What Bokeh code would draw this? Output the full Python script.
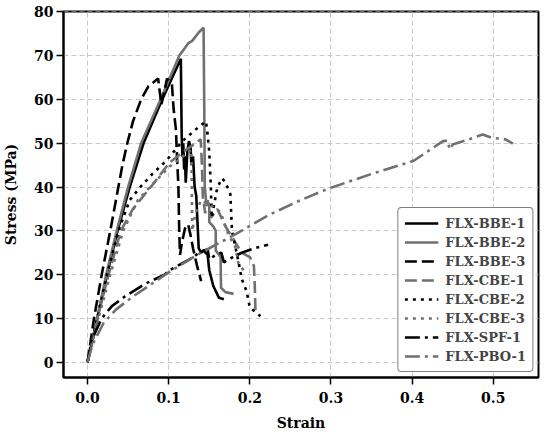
from bokeh.plotting import figure
from bokeh.models import Range1d, FixedTicker, Legend, LegendItem, NumeralTickFormatter
from bokeh.embed import file_html
from bokeh.resources import INLINE

# ---- data (strain, stress in MPa) ----
BBE1_x = [0, 0.012, 0.024, 0.037, 0.052, 0.069, 0.092, 0.115, 0.116, 0.117, 0.118, 0.119, 0.12, 0.121, 0.123,
          0.125, 0.127, 0.128, 0.13, 0.132, 0.134, 0.136, 0.137, 0.14, 0.143, 0.148, 0.15, 0.155, 0.162, 0.168]
BBE1_y = [0, 10, 20, 30, 40, 50, 60, 69.3, 52, 47, 50, 44, 47, 41, 48,
          50.5, 49, 45, 47, 40, 38, 30, 26, 25, 25.5, 24.5, 21, 17.4, 14.7, 14.4]

BBE2_x = [0, 0.012, 0.023, 0.036, 0.05, 0.066, 0.09, 0.113, 0.124, 0.129, 0.137, 0.143, 0.144, 0.1445, 0.146,
          0.15, 0.15, 0.155, 0.158, 0.158, 0.162, 0.164, 0.1645, 0.17, 0.18]
BBE2_y = [0, 10, 20, 30, 40, 50, 60, 70, 72.8, 73.4, 75.3, 76.4, 55, 40, 37,
          36, 32, 31, 30, 25.5, 24.5, 24, 17, 16, 15.6]

BBE3_x = [0, 0.008, 0.0175, 0.028, 0.038, 0.043, 0.049, 0.056, 0.066, 0.075, 0.087, 0.091, 0.098, 0.104, 0.106,
          0.109, 0.11, 0.112, 0.113, 0.114, 0.116, 0.12, 0.124, 0.127, 0.13, 0.135, 0.14]
BBE3_y = [0, 10, 20, 30, 40, 45, 50, 55, 60, 63, 64.8, 58.8, 64.8, 63.5, 58,
          53, 48, 40, 30, 24.5, 27, 30.5, 31.5, 29, 26, 22, 18.5]

CBE1_x = [0, 0.012, 0.026, 0.041, 0.056, 0.08, 0.101, 0.12, 0.1395, 0.141, 0.142, 0.145, 0.148, 0.152, 0.16,
          0.165, 0.17, 0.18, 0.19, 0.2, 0.205, 0.206, 0.207]
CBE1_y = [0, 10, 20, 30, 35, 40.5, 45.6, 48.3, 50.9, 45, 38, 34, 37, 33, 35,
          33, 31, 28, 25, 24, 22, 18, 11.3]

CBE2_x = [0, 0.012, 0.024, 0.038, 0.052, 0.065, 0.08, 0.097, 0.117, 0.138, 0.146, 0.148, 0.15, 0.152, 0.153,
          0.156, 0.16, 0.166, 0.17, 0.176, 0.178, 0.186, 0.19, 0.196, 0.2, 0.21, 0.213]
CBE2_y = [0, 10, 20, 30, 37, 40, 43, 46, 50.5, 53.9, 55, 52, 48, 40, 33,
          36, 40, 42, 41, 38.4, 30, 23, 19, 16.2, 12.5, 11, 10.5]

CBE3_x = [0, 0.012, 0.028, 0.044, 0.062, 0.077, 0.1, 0.128, 0.129, 0.133, 0.14, 0.15, 0.158, 0.164, 0.17,
          0.174, 0.182, 0.186, 0.195]
CBE3_y = [0, 9, 20, 30, 37, 40, 44.5, 48.5, 30, 34, 37, 36, 35, 34.3, 31,
          29, 26.4, 22.6, 20.3]

SPF1_x = [0, 0.005, 0.0175, 0.03, 0.046, 0.07, 0.095, 0.101, 0.125, 0.14, 0.148, 0.15, 0.158, 0.165, 0.168,
          0.175, 0.19, 0.205, 0.2225]
SPF1_y = [0, 5, 10, 12.8, 15, 17.8, 20, 21, 23.4, 25.3, 25.8, 23.5, 24.5, 25, 22.8,
          23.6, 25, 26, 26.8]

PBO1_x = [0, 0.006, 0.02, 0.035, 0.056, 0.08, 0.1, 0.12, 0.14, 0.16, 0.183, 0.223, 0.26, 0.296, 0.35,
          0.402, 0.438, 0.444, 0.446, 0.45, 0.47, 0.487, 0.499, 0.507, 0.515, 0.524]
PBO1_y = [0, 4, 9, 12, 15, 18, 20.5, 22.8, 25, 27, 29.3, 33.6, 36.8, 39.6, 43,
          46, 50.5, 50.6, 48.6, 49.7, 50.9, 52, 51.2, 51.1, 50.9, 49.9]

labels = ["FLX-BBE-1", "FLX-BBE-2", "FLX-BBE-3", "FLX-CBE-1", "FLX-CBE-2", "FLX-CBE-3", "FLX-SPF-1", "FLX-PBO-1"]
x_ticks = [0.0, 0.1, 0.2, 0.3, 0.4, 0.5]
y_ticks = [0, 10, 20, 30, 40, 50, 60, 70, 80]

BLACK = "#000000"
GRAY = "#707070"
series = [
    (BBE1_x, BBE1_y, BLACK, "solid"),
    (BBE2_x, BBE2_y, GRAY, "solid"),
    (BBE3_x, BBE3_y, BLACK, "12 5"),
    (CBE1_x, CBE1_y, GRAY, "12 5"),
    (CBE2_x, CBE2_y, BLACK, "3 5"),
    (CBE3_x, CBE3_y, GRAY, "3 5"),
    (SPF1_x, SPF1_y, BLACK, "15 5 3 5"),
    (PBO1_x, PBO1_y, GRAY, "15 5 3 5"),
]

FONT = "DejaVu Serif"

p = figure(width=542, height=433, x_range=Range1d(-0.0296, 0.5557), y_range=Range1d(-3.5, 80.1),
           output_backend="svg", toolbar_location=None,
           min_border_left=62, min_border_right=4, min_border_top=11, min_border_bottom=52)

items = []
for (xs, ys, col, dash), lab in zip(series, labels):
    r = p.line(xs, ys, line_color=col, line_width=2.6, line_dash=dash)
    items.append(LegendItem(label=lab, renderers=[r]))

p.xaxis.ticker = FixedTicker(ticks=x_ticks)
p.yaxis.ticker = FixedTicker(ticks=y_ticks)
p.xaxis.formatter = NumeralTickFormatter(format="0.0")
p.xaxis.axis_label = "Strain"
p.yaxis.axis_label = "Stress (MPa)"
for ax in (p.xaxis, p.yaxis):
    ax.axis_label_text_font = FONT
    ax.axis_label_text_font_style = "bold"
    ax.axis_label_text_font_size = "14px"
    ax.major_label_text_font = FONT
    ax.major_label_text_font_style = "bold"
    ax.major_label_text_font_size = "14px"
    ax.major_label_text_color = "black"
    ax.axis_label_text_color = "black"
    ax.axis_line_color = "black"
    ax.axis_line_width = 2
    ax.major_tick_line_color = "black"
    ax.major_tick_line_width = 1.5
    ax.major_tick_out = 7
    ax.major_tick_in = 0
    ax.minor_tick_line_color = None
p.xaxis.major_label_standoff = 7
p.xaxis.axis_label_standoff = 9
p.yaxis.major_label_standoff = 3
p.yaxis.axis_label_standoff = 12

for g in (p.xgrid, p.ygrid):
    g.grid_line_color = "#c8c8c8"
    g.grid_line_dash = "5 3"
    g.grid_line_width = 1

p.outline_line_color = "black"
p.outline_line_width = 2
p.outline_line_alpha = 1

legend = Legend(items=items, location="bottom_right")
legend.label_text_font = FONT
legend.label_text_font_style = "bold"
legend.label_text_font_size = "13px"
legend.label_height = 18
legend.glyph_height = 18
legend.glyph_width = 34
legend.spacing = 1
legend.padding = 6
legend.margin = 5
legend.label_standoff = 7
legend.border_line_color = "black"
legend.border_line_width = 1.2
legend.background_fill_alpha = 1
if "border_radius" in Legend.properties():
    legend.border_radius = 4
p.add_layout(legend)

open("out.html", "w").write(file_html(p, INLINE))
